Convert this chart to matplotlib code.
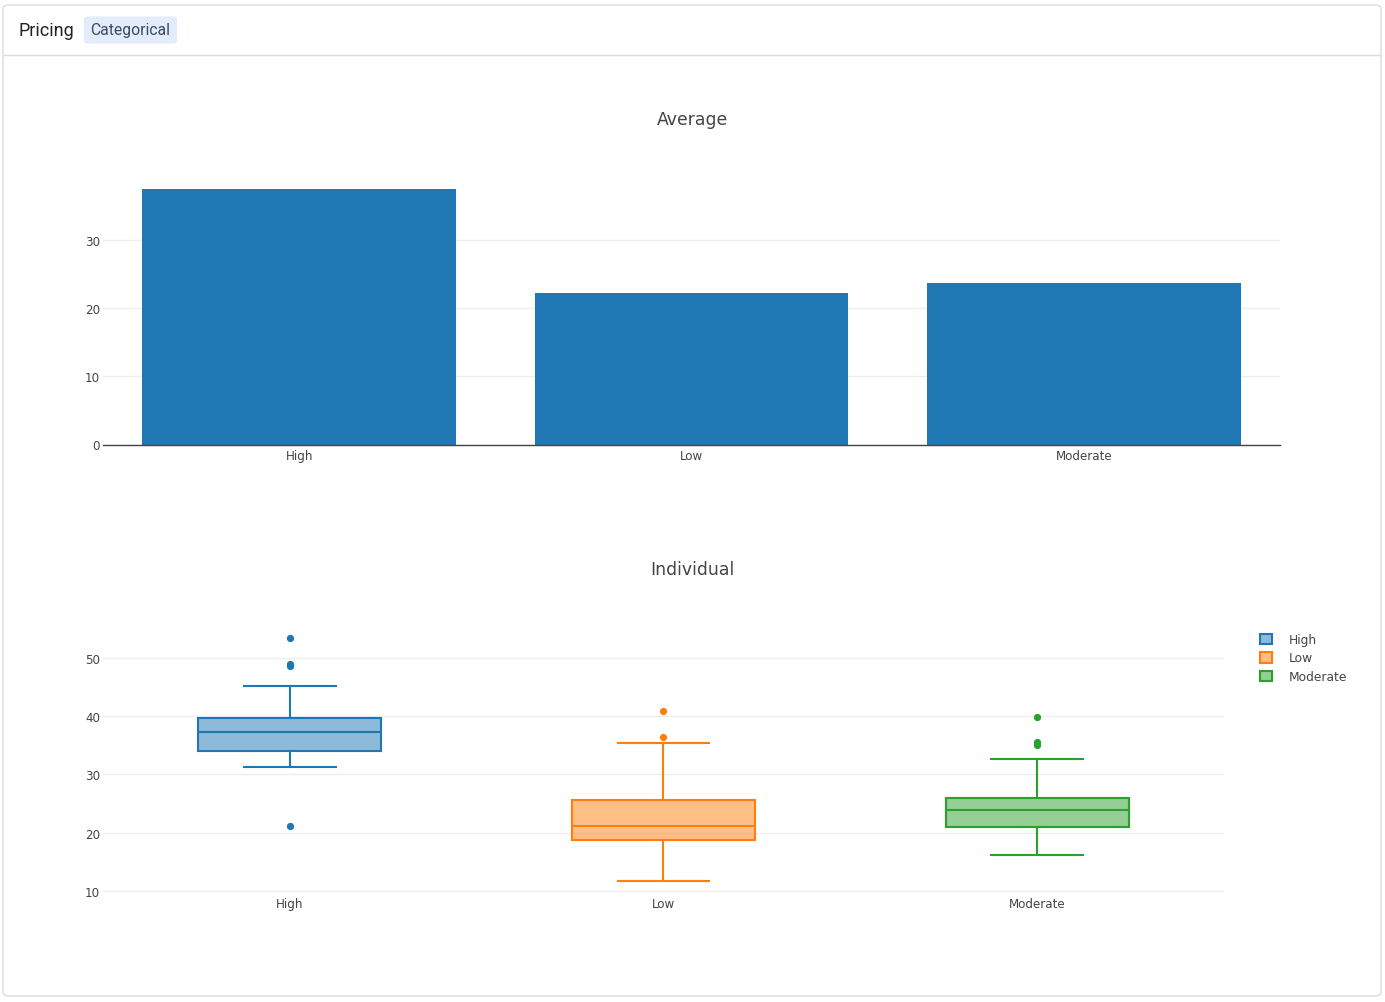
import matplotlib
matplotlib.use("Agg")
import matplotlib.pyplot as plt
from matplotlib.patches import FancyBboxPatch, Rectangle
from matplotlib.lines import Line2D

plt.rcParams["font.family"] = ["DejaVu Sans"]

# ---- data ----
categories = ["High", "Low", "Moderate"]
averages = [37.5, 22.2, 23.7]

box_q1 = [34.0, 18.8, 21.0]
box_med = [37.3, 21.2, 23.9]
box_q3 = [39.7, 25.7, 25.9]
box_whislo = [31.3, 11.7, 16.2]
box_whishi = [45.2, 35.4, 32.7]
box_fliers = [[53.4, 48.9, 48.5, 21.2], [40.9, 36.4], [39.8, 35.5, 35.1]]

colors = ["#1f77b4", "#ff7f0e", "#2ca02c"]
bar_ticks = [0, 10, 20, 30]
box_ticks = [10, 20, 30, 40, 50]

W, H = 1385, 1003
fig = plt.figure(figsize=(W / 100, H / 100), dpi=100)
fig.patch.set_facecolor("white")

def fx(px):
    return px / W

def fy(py):
    return 1 - py / H

# card
card = FancyBboxPatch((fx(3), fy(997)), fx(1378), (997 - 6) / H,
                      boxstyle="round,pad=0,rounding_size=0.004",
                      transform=fig.transFigure, facecolor="white",
                      edgecolor="#dcdcdc", linewidth=1.0, zorder=-10)
fig.patches.append(card)
fig.add_artist(Line2D([fx(3), fx(1381)], [fy(55.5), fy(55.5)], transform=fig.transFigure,
                      color="#dcdcdc", linewidth=1.0, zorder=-9))
badge = FancyBboxPatch((fx(84), fy(44.5)), fx(93), 27 / H,
                       boxstyle="round,pad=0,rounding_size=0.003",
                       transform=fig.transFigure, facecolor="#e2ecfb",
                       edgecolor="none", zorder=-9)
fig.patches.append(badge)
fig.text(fx(18), fy(31), "Pricing", family="Roboto", fontsize=13, color="#222222",
         va="center", ha="left")
fig.text(fx(130.5), fy(31), "Categorical", family="Roboto", fontsize=11.3,
         color="#3a4a66", va="center", ha="center")

tick_color = "#444444"
tfs = 8.6

# ---- bar chart ----
ax1 = fig.add_axes([fx(103), fy(445.5), fx(1280 - 103), (445.5 - 177.5) / H])
ax1.patch.set_alpha(0)
x = list(range(len(categories)))
ax1.bar(x, averages, width=0.8, color=colors[0], zorder=2)
ax1.set_xlim(-0.5, 2.5)
ax1.set_ylim(0, 39.4)
ax1.set_yticks(bar_ticks)
ax1.set_xticks(x)
ax1.set_xticklabels(categories)
ax1.grid(axis="y", color="#eeeeee", linewidth=1, zorder=0)
ax1.set_axisbelow(True)
for s in ["top", "right", "left"]:
    ax1.spines[s].set_visible(False)
ax1.spines["bottom"].set_color("#444444")
ax1.spines["bottom"].set_linewidth(1)
ax1.spines["bottom"].set_zorder(3)
ax1.tick_params(axis="both", length=0, labelsize=tfs, labelcolor=tick_color, pad=3)
ax1.tick_params(axis="y", pad=2)
fig.text(0.5, fy(120), "Average", ha="center", va="center", fontsize=12.4, color="#444444")

# ---- box chart ----
ax2 = fig.add_axes([fx(103), fy(894), fx(1224 - 103), (894 - 626) / H])
ax2.patch.set_alpha(0)
stats = []
for i, c in enumerate(categories):
    stats.append(dict(label=c, q1=box_q1[i], med=box_med[i], q3=box_q3[i],
                      whislo=box_whislo[i], whishi=box_whishi[i], fliers=box_fliers[i]))
for i, st in enumerate(stats):
    col = colors[i]
    ax2.bxp([st], positions=[i], widths=0.49, patch_artist=True, showfliers=True,
            boxprops=dict(facecolor=matplotlib.colors.to_rgba(col, 0.5), edgecolor=col, linewidth=1.5),
            medianprops=dict(color=col, linewidth=1.5),
            whiskerprops=dict(color=col, linewidth=1.5),
            capprops=dict(color=col, linewidth=1.5),
            capwidths=0.245,
            flierprops=dict(marker="o", markerfacecolor=col, markeredgecolor=col,
                            markersize=4.2, linestyle="none"),
            manage_ticks=False, zorder=3)
ax2.set_xlim(-0.5, 2.5)
ax2.set_ylim(9.7, 55.6)
ax2.set_yticks(box_ticks)
ax2.set_xticks(x)
ax2.set_xticklabels(categories)
ax2.grid(axis="y", color="#eeeeee", linewidth=1, zorder=0)
ax2.set_axisbelow(True)
for s in ax2.spines.values():
    s.set_visible(False)
ax2.tick_params(axis="both", length=0, labelsize=tfs, labelcolor=tick_color, pad=3)
ax2.tick_params(axis="y", pad=2)
fig.text(0.5, fy(570), "Individual", ha="center", va="center", fontsize=12.4, color="#444444")

# legend
handles = [Rectangle((0, 0), 1, 1, facecolor=matplotlib.colors.to_rgba(c, 0.5), edgecolor=c, linewidth=1.5)
           for c in colors]
leg = fig.legend(handles, categories, loc="upper left", bbox_to_anchor=(fx(1260), fy(634)),
                 frameon=False, fontsize=8.8, handlelength=0.95, handleheight=0.95,
                 handletextpad=1.4, labelspacing=0.45, borderaxespad=0, borderpad=0)
for t in leg.get_texts():
    t.set_color(tick_color)

fig.savefig("out.png", dpi=100, facecolor="white")
